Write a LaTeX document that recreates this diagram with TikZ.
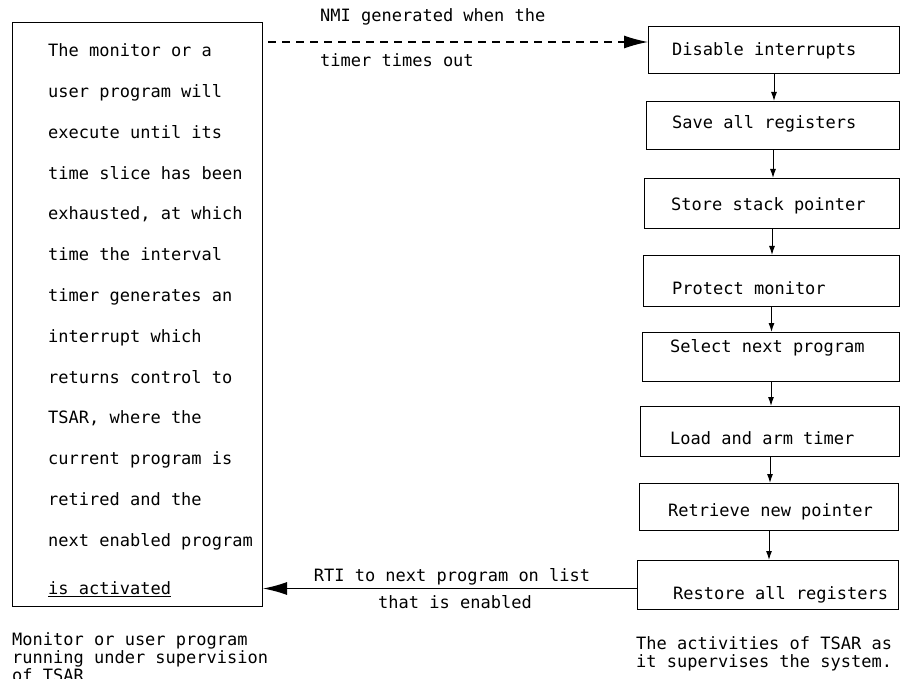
\documentclass[tikz,border=0pt]{standalone}
\usepackage{fontspec}
\setmonofont{DejaVu Sans Mono}
\usetikzlibrary{arrows.meta}

\tikzset{
  stepbox/.style={draw, line width=1pt, anchor=north west, inner sep=0pt},
  steptext/.style={anchor=west, inner sep=0pt, text height=12pt, text depth=3pt},
  steparrow/.style={-{Latex[length=9pt,width=6pt]}, line width=1pt},
  bigarrow/.style={-{Latex[length=24pt,width=13pt]}, line width=1.2pt},
}

\begin{document}
\begin{tikzpicture}[x=1pt, y=-1pt, font=\ttfamily\fontsize{17}{20}\selectfont]
    \useasboundingbox (0,0) rectangle (900,679);

    % Left box: the running program
    \node[stepbox, minimum width=250pt, minimum height=584pt] (prog) at (12,22) {};
    \node[anchor=north west, inner sep=0pt, align=left,
          font=\ttfamily\fontsize{17}{40.8}\selectfont] (progtext) at (48,43.6)
        {The monitor or a\\
         user program will\\
         execute until its\\
         time slice has been\\
         exhausted, at which\\
         time the interval\\
         timer generates an\\
         interrupt which\\
         returns control to\\
         TSAR, where the\\
         current program is\\
         retired and the\\
         next enabled program\\[7.7pt]
         \underline{is activated}};

    % TSAR steps
    \node[stepbox, minimum width=251pt, minimum height=47pt] (s1) at (648,26) {};
    \node[stepbox, minimum width=253pt, minimum height=48pt] (s2) at (646,101) {};
    \node[stepbox, minimum width=255pt, minimum height=50pt] (s3) at (644,178) {};
    \node[stepbox, minimum width=256pt, minimum height=51pt] (s4) at (643,255) {};
    \node[stepbox, minimum width=257pt, minimum height=49pt] (s5) at (642,332) {};
    \node[stepbox, minimum width=259pt, minimum height=50pt] (s6) at (640,406) {};
    \node[stepbox, minimum width=259pt, minimum height=47pt] (s7) at (639,483) {};
    \node[stepbox, minimum width=261pt, minimum height=49pt] (s8) at (637,560) {};

    \node[steptext] (t1) at (672,51) {Disable interrupts};
    \node[steptext] (t2) at (672,124) {Save all registers};
    \node[steptext] (t3) at (671,206) {Store stack pointer};
    \node[steptext] (t4) at (672,290) {Protect monitor};
    \node[steptext] (t5) at (670,348) {Select next program};
    \node[steptext] (t6) at (670,440) {Load and arm timer};
    \node[steptext] (t7) at (668,512) {Retrieve new pointer};
    \node[steptext] (t8) at (673,595) {Restore all registers};

    \draw[steparrow] (s1.south) -- (s1.south |- s2.north);
    \draw[steparrow] (s2.south) -- (s2.south |- s3.north);
    \draw[steparrow] (s3.south) -- (s3.south |- s4.north);
    \draw[steparrow] (s4.south) -- (s4.south |- s5.north);
    \draw[steparrow] (s5.south) -- (s5.south |- s6.north);
    \draw[steparrow] (s6.south) -- (s6.south |- s7.north);
    \draw[steparrow] (s7.south) -- (s7.south |- s8.north);

    % NMI into TSAR
    \coordinate (nmi) at (268,42);
    \draw[bigarrow, dash pattern=on 8pt off 6pt] (nmi) -- (nmi -| s1.west);
    \node[steptext] (nmi1) at (320,17) {NMI generated when the};
    \node[steptext] (nmi2) at (320,62) {timer times out};

    % RTI back to the program
    \draw[bigarrow] ([yshift=-3.5pt]s8.west) -- ([yshift=-3.5pt]s8.west -| prog.east);
    \node[steptext, anchor=center] (rti1) at (452,577) {RTI to next program on list};
    \node[steptext, anchor=center] (rti2) at (455,604) {that is enabled};

    % Captions
    \node[steptext] (cap1) at (12,641) {Monitor or user program};
    \node[steptext] (cap2) at (12,659) {running under supervision};
    \node[steptext] (cap3) at (12,677) {of TSAR};
    \node[steptext] (cap4) at (636,645) {The activities of TSAR as};
    \node[steptext] (cap5) at (636,663) {it supervises the system.};
\end{tikzpicture}
\end{document}
